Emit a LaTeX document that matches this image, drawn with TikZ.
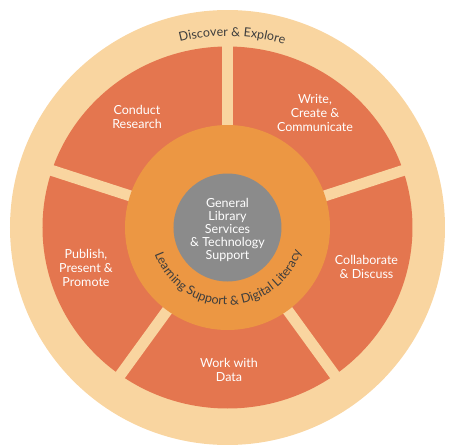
\documentclass[tikz,border=0pt]{standalone}
\usepackage{fontspec}
\setmainfont{Lato}
\usetikzlibrary{decorations.text}

\begin{document}
\begin{tikzpicture}[x=1pt, y=1pt,
    segLabel/.style={text=white, align=center, font=\fontsize{12.5}{13.7}\selectfont},
    coreLabel/.style={text=white, align=center, font=\fontsize{12.5}{13}\selectfont}]
    \def\outerR{217.5}
    \def\ringRx{185}
    \def\ringRy{181}
    \def\midR{102.5}
    \def\coreR{54}
    \def\gapWidth{11}

    \definecolor{outerColour}{HTML}{F9D5A0}
    \definecolor{segColour}{HTML}{E4764F}
    \definecolor{midColour}{HTML}{EC9743}
    \definecolor{coreColour}{HTML}{8B8B8B}
    \definecolor{textColour}{HTML}{3D3D3D}

    \useasboundingbox (-227.5,-217.5) rectangle (223.5,227.5);

    % Draw outer ring
    \fill[outerColour] (0,0) circle (\outerR);

    % Draw segment ring
    \fill[segColour] (0,0) ellipse ({\ringRx} and {\ringRy});

    % Gaps between the five segments
    \foreach \a in {90,18,-54,-126,162}
        \draw[outerColour, line width=\gapWidth pt] (\a:90) -- (\a:200);

    % Draw learning support ring and core
    \fill[midColour] (0,0) circle (\midR);
    \fill[coreColour] (0,0) circle (\coreR);

    % Text on the rings
    \path[decorate, decoration={text along path, text align=center,
        text color=textColour,
        text={|\fontsize{12.5}{14}\selectfont|Discover {\&} Explore}}]
        (118.6:191.5) arc[start angle=118.6, end angle=58.6, radius=191.5];
    \path[decorate, decoration={text along path, text align=center,
        text color=textColour,
        text={|\fontsize{12.5}{14}\selectfont|Learning Support {\&} Digital Literacy}}]
        (196:77.5) arc[start angle=196, end angle=346, radius=77.5];

    % Segment labels
    \node[segLabel] (research) at (-90.5,110.5) {Conduct\\Research};
    \node[segLabel] (write) at (87.5,114.5) {Write,\\Create \&\\Communicate};
    \node[segLabel] (collab) at (139,-39.5) {Collaborate\\\& Discuss};
    \node[segLabel] (data) at (1.5,-142.5) {Work with\\Data};
    \node[segLabel] (publish) at (-141.5,-40.5) {Publish,\\Present \&\\Promote};

    % Core label
    \node[coreLabel] (core) at (0,-2.5) {General\\Library\\Services\\\& Technology\\Support};

\end{tikzpicture}
\end{document}
